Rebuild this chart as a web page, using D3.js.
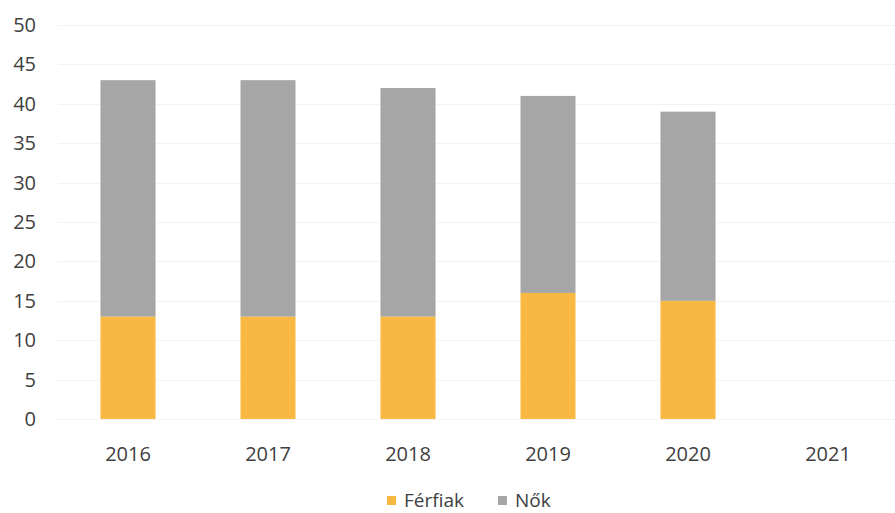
<!DOCTYPE html>
<html>
<head>
<meta charset="utf-8">
<script src="https://cdn.jsdelivr.net/npm/d3@7"></script>
<style>
  body { margin: 0; background: #fff; }
  text { font-family: "Open Sans", sans-serif; fill: #404040; }
</style>
</head>
<body>
<script>
let years = ['2016', '2017', '2018', '2019', '2020', '2021'];
let ferfiak = [13, 13, 13, 16, 15, null];
let nok = [30, 30, 29, 25, 24, null];
let seriesNames = ['Férfiak', 'Nők'];
let colors = ['#F9B842', '#A6A6A6'];
let yTicks = [0, 5, 10, 15, 20, 25, 30, 35, 40, 45, 50];

let width = 895, height = 513;
let margin = {top: 25, right: -3, bottom: 94, left: 58};

let svg = d3.select('body').append('svg')
    .attr('width', width)
    .attr('height', height);

let x = d3.scaleBand()
    .domain(years)
    .range([margin.left, width - margin.right])
    .paddingInner(0.607)
    .paddingOuter(0.3035);

let y = d3.scaleLinear()
    .domain([0, 50])
    .range([height - margin.bottom, margin.top]);

// gridlines
svg.append('g')
    .selectAll('line')
    .data(yTicks)
    .join('line')
    .attr('x1', margin.left)
    .attr('x2', width)
    .attr('y1', d => Math.round(y(d)) + 0.5)
    .attr('y2', d => Math.round(y(d)) + 0.5)
    .attr('stroke', '#f2f2f2')
    .attr('stroke-width', 1);

// y axis labels
let yAxis = svg.append('g')
    .attr('transform', `translate(${margin.left - 22},0)`)
    .call(d3.axisLeft(y).tickValues(yTicks).tickSize(0).tickPadding(0));
yAxis.select('.domain').remove();
yAxis.selectAll('text')
    .style('font-size', '20px')
    .attr('fill', '#404040');

// x axis labels
let xAxis = svg.append('g')
    .attr('transform', `translate(0,${height - margin.bottom + 22})`)
    .call(d3.axisBottom(x).tickSize(0).tickPadding(6));
xAxis.select('.domain').remove();
xAxis.selectAll('text')
    .style('font-size', '20px')
    .attr('fill', '#404040');

// stacked bars
let rows = years.map((yr, i) => ({year: yr, 'Férfiak': ferfiak[i], 'Nők': nok[i]}))
    .filter(d => d['Férfiak'] != null);
let stack = d3.stack().keys(seriesNames)(rows);

svg.append('g')
    .selectAll('g')
    .data(stack)
    .join('g')
    .attr('fill', (d, i) => colors[i])
    .selectAll('rect')
    .data(d => d)
    .join('rect')
    .attr('x', d => x(d.data.year))
    .attr('width', x.bandwidth())
    .attr('y', d => y(d[1]))
    .attr('height', d => y(d[0]) - y(d[1]));

// legend
let legend = svg.append('g')
    .attr('transform', 'translate(387,496)');
let lx = [0, 111];
let items = legend.selectAll('g')
    .data(seriesNames)
    .join('g')
    .attr('transform', (d, i) => `translate(${lx[i]},0)`);
items.append('rect')
    .attr('width', 9)
    .attr('height', 9)
    .attr('fill', (d, i) => colors[i]);
items.append('text')
    .attr('x', 17)
    .attr('y', 11)
    .style('font-size', '19px')
    .text(d => d);
</script>
</body>
</html>
